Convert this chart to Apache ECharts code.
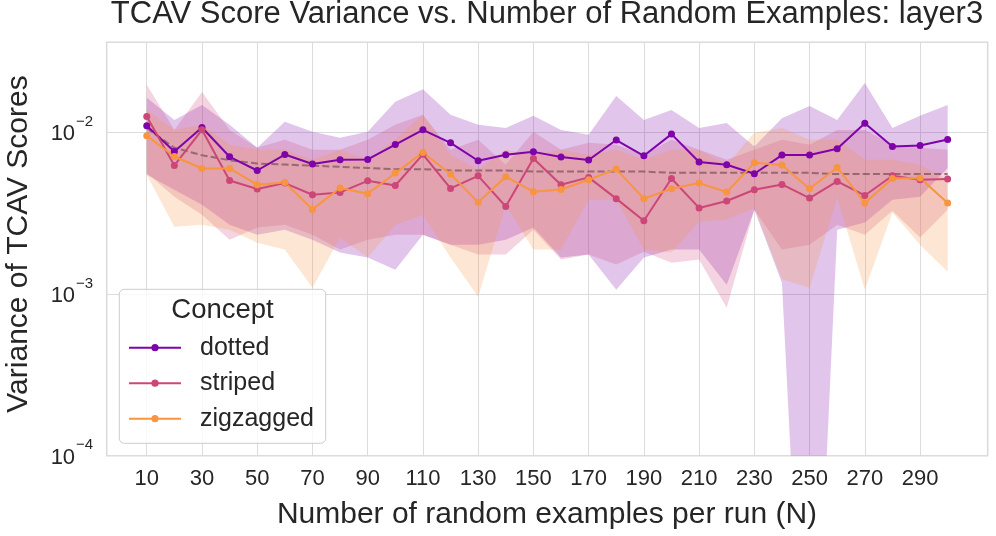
<!DOCTYPE html>
<html>
<head>
<meta charset="utf-8">
<script src="https://cdn.jsdelivr.net/npm/echarts/dist/echarts.min.js"></script>
<style>html,body{margin:0;padding:0;background:#fff;}#chart{width:996px;height:536px;}</style>
</head>
<body>
<div id="chart"></div>
<script>
const nValues = [10,20,30,40,50,60,70,80,90,100,110,120,130,140,150,160,170,180,190,200,210,220,230,240,250,260,270,280,290,300];
const xTicks = [10,30,50,70,90,110,130,150,170,190,210,230,250,270,290];
const seriesNames = ['dotted','striped','zigzagged'];

const dottedMean  = [0.01094,0.00759,0.01068,0.00704,0.00579,0.00727,0.00635,0.00675,0.00678,0.00838,0.01033,0.00859,0.00665,0.00724,0.00755,0.00701,0.00672,0.00893,0.00714,0.00972,0.00653,0.00628,0.00553,0.00721,0.00721,0.00789,0.01133,0.00815,0.00827,0.00900];
const dottedUpper = [0.0163,0.0119,0.0147,0.0111,0.0080,0.0116,0.01005,0.00922,0.01005,0.0154,0.0184,0.0128,0.0111,0.0106,0.0126,0.0103,0.00962,0.0167,0.0119,0.0137,0.0106,0.0114,0.00815,0.0122,0.0145,0.0119,0.0201,0.0106,0.0126,0.0147];
const dottedLower = [0.00545,0.00441,0.00356,0.00268,0.00232,0.00249,0.00216,0.00180,0.00168,0.00141,0.00232,0.00201,0.00201,0.00216,0.00257,0.00168,0.00175,0.00106,0.00168,0.00188,0.00188,0.00114,0.00331,0.00117,0.0000005,0.00249,0.00276,0.00382,0.00399,0.00600];

const stripedMean  = [0.0125,0.00622,0.01033,0.00502,0.00445,0.00484,0.00410,0.00424,0.00500,0.00468,0.00729,0.00449,0.00537,0.00347,0.00687,0.00473,0.00525,0.00388,0.00283,0.00517,0.00340,0.00375,0.00440,0.00475,0.00391,0.00496,0.00406,0.00537,0.00508,0.00513];
const stripedUpper = [0.0196,0.0103,0.0177,0.0103,0.0080,0.00896,0.00778,0.00778,0.00896,0.0111,0.0128,0.00778,0.00896,0.00628,0.01005,0.00778,0.0086,0.00835,0.00724,0.00896,0.00778,0.00674,0.00778,0.00896,0.00835,0.0103,0.0103,0.00835,0.0080,0.00778];
const stripedLower = [0.00561,0.00399,0.00309,0.00216,0.00257,0.00268,0.00232,0.00188,0.00216,0.00232,0.00232,0.00201,0.00175,0.00175,0.00249,0.00163,0.00175,0.00152,0.00182,0.00156,0.00163,0.000822,0.00331,0.00188,0.00201,0.00268,0.00232,0.00327,0.00223,0.00331];

const zigMean  = [0.00949,0.00707,0.00596,0.00596,0.00473,0.00489,0.00333,0.00451,0.00416,0.00558,0.00748,0.00551,0.00368,0.00530,0.00428,0.00442,0.00508,0.00591,0.00388,0.00447,0.00484,0.00426,0.00646,0.00626,0.00447,0.00605,0.00365,0.00517,0.00520,0.00365];
const zigUpper = [0.0137,0.0103,0.0111,0.00835,0.00778,0.00778,0.00674,0.00778,0.00674,0.00896,0.0128,0.00724,0.00585,0.00778,0.00724,0.00778,0.00724,0.00778,0.00674,0.00778,0.00778,0.00628,0.0099,0.0106,0.00896,0.00896,0.00674,0.00674,0.00628,0.00508];
const zigLower = [0.00545,0.00260,0.00268,0.00249,0.00207,0.00188,0.00109,0.00223,0.00168,0.00268,0.00309,0.00168,0.000962,0.00356,0.00188,0.00188,0.00382,0.00382,0.00188,0.00180,0.00280,0.00288,0.00340,0.00123,0.00109,0.00395,0.00106,0.00318,0.00201,0.00137];

const trendValues = [0.0106,0.0080,0.0072,0.0067,0.0064,0.0063,0.0062,0.0061,0.0060,0.0059,0.0059,0.0058,0.0058,0.0058,0.0057,0.0057,0.0057,0.0057,0.0057,0.0056,0.0056,0.0056,0.0056,0.0056,0.0056,0.0055,0.0055,0.0055,0.0055,0.0055];

const FONT = '"Liberation Sans", Arial, "DejaVu Sans", sans-serif';
const TXT = '#262626';
const colors = ['#7e03a8', '#cc4778', '#f89540'];
const bandFills = ['rgba(126,3,168,0.23)', 'rgba(204,71,120,0.23)', 'rgba(248,149,64,0.23)'];

function pairs(ys) { return nValues.map((x, i) => [x, ys[i]]); }

function bandSeries(name, upper, lower, fill) {
  return {
    type: 'custom', name: name, silent: true, clip: true, z: 1,
    data: [[nValues[0], upper[0]]],
    renderItem: function (params, api) {
      const pts = [];
      for (let i = 0; i < nValues.length; i++) pts.push(api.coord([nValues[i], upper[i]]));
      for (let i = nValues.length - 1; i >= 0; i--) pts.push(api.coord([nValues[i], lower[i]]));
      return { type: 'polygon', shape: { points: pts }, style: { fill: fill, stroke: null } };
    }
  };
}

function lineSeries(name, ys, color) {
  return {
    type: 'line', name: name, data: pairs(ys), z: 5,
    symbol: 'circle', symbolSize: 7, showSymbol: true,
    lineStyle: { color: color, width: 2 }, itemStyle: { color: color },
    emphasis: { disabled: true }, animation: false
  };
}

const chart = echarts.init(document.getElementById('chart'));
chart.setOption({
  animation: false,
  backgroundColor: '#ffffff',
  grid: { left: 106.7, right: 8.3, top: 42.3, bottom: 80.3, show: true, borderColor: '#d9d9d9', borderWidth: 1.5, containLabel: false },
  xAxis: {
    type: 'value', min: -4.5, max: 314.5,
    axisLine: { show: false },
    axisTick: { show: false, customValues: xTicks },
    axisLabel: { customValues: xTicks, fontSize: 22, color: TXT, fontFamily: FONT, margin: 12 },
    splitLine: { show: true, lineStyle: { color: '#dcdcdc', width: 1 } }
  },
  yAxis: {
    type: 'log', logBase: 10, min: 0.0001, max: 0.0359,
    axisLine: { show: false }, axisTick: { show: false },
    splitLine: { show: true, lineStyle: { color: '#dcdcdc', width: 1 } },
    minorSplitLine: { show: false },
    axisLabel: {
      margin: 13.5,
      formatter: function (v) {
        const e = Math.log10(v); const r = Math.round(e);
        if (Math.abs(e - r) > 1e-6) return '';
        return '{b|10}{s|' + (r < 0 ? '\u2212' : '') + Math.abs(r) + '}';
      },
      rich: {
        b: { fontSize: 22, color: TXT, fontFamily: FONT, verticalAlign: 'bottom', lineHeight: 26 },
        s: { fontSize: 15, color: TXT, fontFamily: FONT, verticalAlign: 'bottom', lineHeight: 26, padding: [0, 0, 16, 1] }
      }
    }
  },
  legend: {
    data: seriesNames, orient: 'vertical', left: 128, top: 334.7, padding: 0,
    itemWidth: 52, itemHeight: 9, itemGap: 9.5, z: 10,
    textStyle: { fontSize: 25, lineHeight: 26, color: TXT, fontFamily: FONT, padding: [0, 0, 0, 14] }
  },
  graphic: [
    { type: 'rect', z: 1, shape: { x: 119.3, y: 289.3, width: 206.4, height: 154, r: 5 }, style: { fill: 'rgba(255,255,255,0.8)', stroke: '#cccccc', lineWidth: 1 } },
    { type: 'text', z: 10, x: 222.5, y: 310.7, style: { text: 'Concept', fontSize: 27.5, fontFamily: FONT, fill: TXT, textAlign: 'center', textVerticalAlign: 'middle' } },
    { type: 'text', z: 10, x: 547, y: 14.5, style: { text: 'TCAV Score Variance vs. Number of Random Examples: layer3', fontSize: 31, fontFamily: FONT, fill: TXT, textAlign: 'center', textVerticalAlign: 'middle' } },
    { type: 'text', z: 10, x: 547, y: 515, style: { text: 'Number of random examples per run (N)', fontSize: 30, fontFamily: FONT, fill: TXT, textAlign: 'center', textVerticalAlign: 'middle' } },
    { type: 'text', z: 10, x: 18.5, y: 244, rotation: Math.PI / 2, style: { text: 'Variance of TCAV Scores', fontSize: 30, fontFamily: FONT, fill: TXT, textAlign: 'center', textVerticalAlign: 'middle' } }
  ],
  series: [
    bandSeries('dotted band', dottedUpper, dottedLower, bandFills[0]),
    bandSeries('striped band', stripedUpper, stripedLower, bandFills[1]),
    bandSeries('zigzagged band', zigUpper, zigLower, bandFills[2]),
    {
      type: 'line', name: 'trend', data: pairs(trendValues), z: 3, showSymbol: false, symbol: 'none', silent: true,
      lineStyle: { color: '#8b5e66', width: 2, type: [7, 3.2], opacity: 0.85 }
    },
    lineSeries('dotted', dottedMean, colors[0]),
    lineSeries('striped', stripedMean, colors[1]),
    lineSeries('zigzagged', zigMean, colors[2])
  ]
});
</script>
</body>
</html>
